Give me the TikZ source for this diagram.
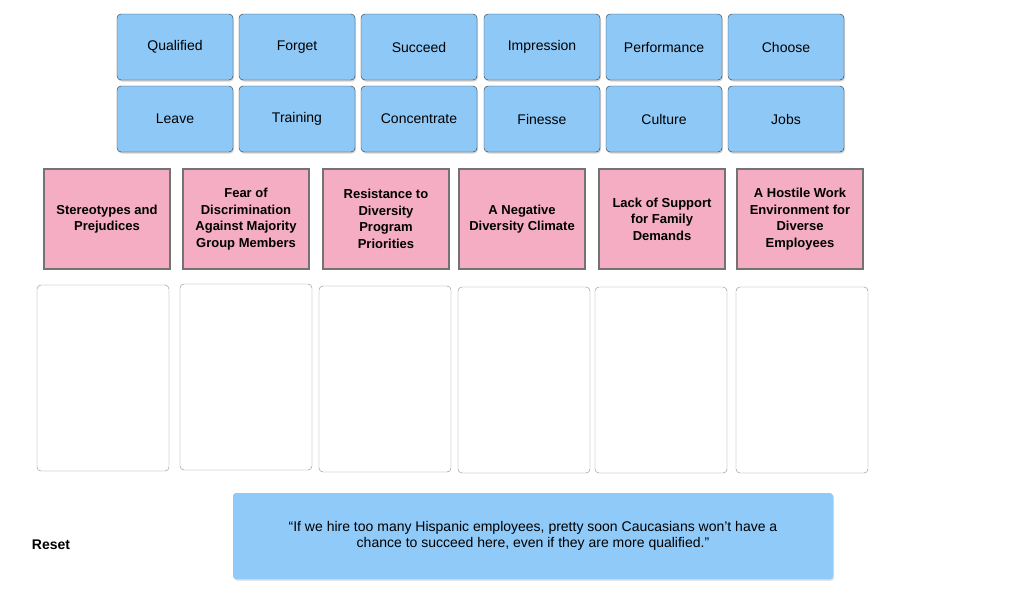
\documentclass[tikz,border=0pt]{standalone}
\usepackage{fontspec}
\setmainfont{Liberation Sans}
\usetikzlibrary{shadows}
\definecolor{tileblue}{HTML}{8EC8F6}
\definecolor{quoteblue}{HTML}{90CAF9}
\definecolor{pinkfill}{HTML}{F4ADC2}
\tikzset{x=1pt,y=-1pt,
 tile/.style={draw=black!80,fill=tileblue,rounded corners=4pt,minimum width=116pt,minimum height=66pt,font=\fontsize{14}{16}\selectfont,drop shadow={shadow xshift=1pt,shadow yshift=-1.5pt,opacity=0.35}},
 cat/.style={draw=black!55,line width=1.5pt,fill=pinkfill,minimum width=126pt,minimum height=100pt,align=center,font=\bfseries\fontsize{13}{16.5}\selectfont,drop shadow={shadow xshift=1pt,shadow yshift=-1pt,opacity=0.3}},
 slot/.style={draw=black!45,rounded corners=4pt,fill=white,minimum width=132pt,minimum height=186pt},
}
\begin{document}
\begin{tikzpicture}
\useasboundingbox (0,0) rectangle (1024,611);
\node[tile] (t1) at (175,47) {Qualified};
\node[tile] (t2) at (297,47) {Forget};
\node[tile] (t3) at (419,47) {Succeed};
\node[tile] (t4) at (542,47) {Impression};
\node[tile] (t5) at (664,47) {Performance};
\node[tile] (t6) at (786,47) {Choose};
\node[tile] (u1) at (175,119) {Leave};
\node[tile] (u2) at (297,119) {Training};
\node[tile] (u3) at (419,119) {Concentrate};
\node[tile] (u4) at (542,119) {Finesse};
\node[tile] (u5) at (664,119) {Culture};
\node[tile] (u6) at (786,119) {Jobs};
\node[cat] (c1) at (107,219) {Stereotypes and\\Prejudices};
\node[cat] (c2) at (246,219) {Fear of\\Discrimination\\Against Majority\\Group Members};
\node[cat] (c3) at (386,219) {Resistance to\\Diversity\\Program\\Priorities};
\node[cat] (c4) at (522,219) {A Negative\\Diversity Climate};
\node[cat] (c5) at (662,219) {Lack of Support\\for Family\\Demands};
\node[cat] (c6) at (800,219) {A Hostile Work\\Environment for\\Diverse\\Employees};
\node[slot] (s1) at (103,378) {};
\node[slot] (s2) at (246,377) {};
\node[slot] (s3) at (385,379) {};
\node[slot] (s4) at (524,380) {};
\node[slot] (s5) at (661,380) {};
\node[slot] (s6) at (802,380) {};
\node[fill=quoteblue,rounded corners=3pt,minimum width=600pt,minimum height=86pt,align=center,font=\fontsize{14}{16}\selectfont,drop shadow={shadow xshift=1pt,shadow yshift=-1.5pt,opacity=0.3}] (q) at (533,536) {“If we hire too many Hispanic employees, pretty soon Caucasians won’t have a\\chance to succeed here, even if they are more qualified.”};
\node[font=\bfseries\fontsize{14}{16}\selectfont] (reset) at (51,545) {Reset};
\end{tikzpicture}
\end{document}
